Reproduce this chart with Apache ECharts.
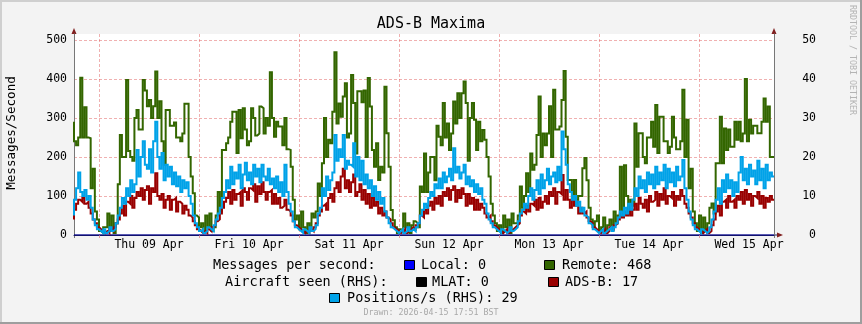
<!DOCTYPE html>
<html>
<head>
<meta charset="utf-8">
<title>ADS-B Maxima</title>
<script src="https://cdn.jsdelivr.net/npm/echarts@6/dist/echarts.min.js"></script>
<style>
  html, body { margin: 0; padding: 0; background: #f3f3f3; }
  #chart { width: 862px; height: 324px; }
</style>
</head>
<body>
<div id="chart"></div>
<script>
// Time axis: hours relative to Thu 09 Apr 00:00, one sample every 30 minutes
const startHour = -6;
const endHour = 162;
const stepHours = 0.5;

const dayLabels = ['Thu 09 Apr', 'Fri 10 Apr', 'Sat 11 Apr', 'Sun 12 Apr', 'Mon 13 Apr', 'Tue 14 Apr', 'Wed 15 Apr'];
const midnightHours = [0, 24, 48, 72, 96, 120, 144];
const noonHours = [12, 36, 60, 84, 108, 132, 156];
const leftTicks = [0, 100, 200, 300, 400, 500];
const rightTicks = [0, 10, 20, 30, 40, 50];

// Messages per second (LHS)
const localRate = [0, 0];
const remoteRate = [
  290,240,230,250,403,250,327,250,248,120,170,60,
  40,10,5,20,20,55,10,50,5,30,130,256,200,200,397,215,200,190,300,320,270,270,397,370,330,346,300,330,419,300,343,240,180,320,320,280,280,288,250,250,240,260,336,336,200,150,107,50,
  45,20,30,5,50,20,55,10,20,50,110,60,218,218,235,250,290,316,316,210,320,248,325,270,230,240,325,300,255,260,329,325,260,300,280,417,300,252,290,278,278,230,300,220,218,175,90,40,
  50,15,60,20,5,30,10,55,45,60,132,100,184,300,200,244,235,316,468,286,337,303,355,389,250,260,410,338,209,368,368,340,370,200,402,329,218,175,235,141,175,160,380,261,175,64,38,20,
  5,15,10,55,20,30,5,25,35,30,20,124,110,209,110,160,200,200,140,280,252,230,338,250,286,218,260,342,286,363,300,363,393,338,190,300,338,295,218,290,240,269,244,200,150,80,50,30,
  10,25,5,50,20,40,5,55,30,30,50,124,70,100,158,110,209,167,180,256,355,200,260,230,260,330,200,372,270,270,278,346,420,252,141,141,90,141,90,100,100,171,197,140,70,40,20,35,
  50,10,20,45,5,25,40,15,60,30,50,175,60,179,100,55,90,75,286,175,261,261,200,184,250,250,290,226,333,210,303,303,240,240,210,226,303,250,220,220,240,372,200,295,120,170,60,30,
  10,50,5,45,10,30,70,81,55,184,184,303,184,273,218,270,226,226,290,244,290,240,260,400,240,295,260,280,280,261,261,290,350,290,329,200,200
];

// Aircraft seen (RHS)
const mlatSeen = [0, 0];
const adsbSeen = [
  4,6.5,8,9,8.5,9.5,8,8.5,7,5.5,4,3,
  2,1.5,1,0.5,1,0.5,1.5,1,2,3,4,5.5,7.5,5,8.5,8,10,7,9.5,11,10,12,9,11.5,12.5,8,12,11,15.8,10,9,10.5,7,9,10,6.5,9,9.5,6,8.5,8,5.5,7.5,6.5,5,4.5,3.5,2.5,
  1.5,1,0.5,1,0.5,1.5,1,2,2.5,3.5,4,5.5,7,8.5,9.5,11,8,11.5,9,10.5,11,7.5,12,11,9,12,11.5,13,8.5,12.5,10.5,13.5,11,9,11,11.5,8,10.5,8,9.5,7,7.5,9,6.5,6,5,3.5,2.5,
  2,1.5,1,0.5,1,0.5,1.5,1,2,3,5,6,7.5,8,6.5,9.5,10.5,8.5,12,13.5,11,15,17,12,14,11,13.5,15.5,10,11,13,9,11.5,8,10.5,7,9.5,7.5,8.5,5.5,7,5,6,4.5,4,3,2,1.5,
  1,0.5,1,1.5,0.5,1,1.5,2,1.5,2.5,3,5,4.5,6.5,5.5,7.5,8.5,6.5,9.5,8,10,7.5,11,10,12,9,11.5,12.5,8.5,11.5,9.5,12,10.5,7.5,10.5,8,9.5,6.5,9,6.5,8,7,5.5,4.5,5,3.5,2.5,2,
  1.5,1,0.5,1,1.5,0.5,1,1.5,2,2.5,3,5,6,5.5,7.5,6,8,7.5,9,6.5,9.5,7,8.5,10,8,11,10,12,8,11,10.5,15.4,9,11.5,9,7,9,7.5,8.5,5.5,7,5.5,6,4.5,3.5,3,2,1.5,
  1,0.5,1,1.5,0.5,1,2,1.5,2.5,3,4,5.5,4.5,6,5,7,5,6.5,8,6.5,9.5,8,7,9,6,10,8.5,9,11,7.5,10.5,9,12,8,10,9.5,11,7.5,10,9,11.5,10,8,7,5.5,4.5,3,2,
  1.5,1,0.5,1,1.5,0.5,1,2.5,4,6,7.5,5,8.5,9,7,10,8.5,9,7,10,9,11,8,11.5,9,10.5,7.5,10,9.5,11,8,10,7,9.5,8.5,10,9
];

// Positions per second (RHS)
const positionsRate = [
  5,9,12,16,11,10,11.5,9,10,7,4,2.5,
  1.5,1,0.5,1.5,0.5,1,2,1,1.5,3,5,7,9.5,8,12,10,14,11,13,21.8,15,20,24,18,17,22,16,24,29,20,17,21,14,18,15,17.5,13,16,12.5,15,11,14,12,13.5,10,8,5,3,
  2,1,1.5,0.5,1,2,1.5,1,2.5,4,5.5,7,9.5,11,14,12,17.5,13,16,14.5,18,12,15.5,18.5,14,16,13,18,15,17,13.5,18,15,14,17,13,14.5,12,15,11,13.5,10,18,11,8,6,3.5,2,
  1.5,1,0.5,1.5,1,0.5,2,1,1.5,2.5,5.5,7,12,10,15,11.5,14,16,25.6,19,22,20,25.6,17,19,18,17.5,23.5,15,20,14,19,13,15.5,12,14,10,12.5,9,11,8,9.5,6,4.5,3,2,1.5,1,
  0.5,1,1.5,0.5,1,2,1,1.5,1,2,3,5,6.5,8,7,9.5,11,10,13,12,14.5,12,16,13.5,15,17,14,22.2,16,17.5,14.5,16,18,13,15,12.5,14,11,13,10.5,12,9,8,5.5,4,3,2,1.5,
  1,0.5,1.5,1,0.5,1,2,1,1.5,2,3.5,5.5,6.5,8,7,10,12,9,11.5,14,10.5,15.5,12,14,17,13,15,16,13.5,17.5,14,26.5,22,18,13,11,9,10,7.5,8.5,6,7,5,4.5,3,2.5,1.5,1,
  0.5,1,1.5,0.5,1,1.5,2,1,2,3,4.5,6,5,7,5.5,8,6.5,9,12,10,15,12,14,11,16,13,15.5,12,17.5,13,16,14,18,12,17,13.5,16,12.5,17.5,14,15,19.2,12,9,6,4,2.5,1.5,
  1,0.5,1.5,1,0.5,1,2,4,6,9,12,8,14,11,15.5,12,14,10,13.5,11,16,20,14,17,13,18,15,16.5,13,19,14,17,12,18,14,16,15
];

const FONT = '"DejaVu Sans Mono", monospace';
const MGRID = 'rgba(222, 80, 80, 0.45)';

const COLORS = {
  local: '#0000ff',
  remote: '#336600',
  mlat: '#000000',
  adsb: '#990000',
  positions: '#00a2e8'
};

function timed(values) {
  return values.map((v, i) => [startHour + i * stepHours, v]);
}
function spanning(values) {
  // first and last sample at the window edges
  return values.map((v, i) => [i === 0 ? startHour : endHour, v]);
}
const maxOf = a => Math.max.apply(null, a).toFixed(0);

function stepLine(name, data, color, axis, width, z, opacity) {
  return {
    name: name,
    type: 'line',
    step: 'start',
    data: data,
    yAxisIndex: axis,
    showSymbol: false,
    symbol: 'none',
    silent: true,
    z: z,
    lineStyle: { color: color, width: width, opacity: opacity == null ? 1 : opacity, cap: 'butt', join: 'miter' }
  };
}

const chart = echarts.init(document.getElementById('chart'), null, { renderer: 'canvas', width: 862, height: 324 });

const legendRows = [
  { text: 'Messages per second:', x: 213, y: 265 },
  { text: 'Aircraft seen (RHS):', x: 225, y: 282 }
];
const legendItems = [
  { label: 'Local: ' + maxOf(localRate), color: COLORS.local, bx: 404, tx: 421, y: 265 },
  { label: 'Remote: ' + maxOf(remoteRate), color: COLORS.remote, bx: 544, tx: 562, y: 265 },
  { label: 'MLAT: ' + maxOf(mlatSeen), color: COLORS.mlat, bx: 416, tx: 432, y: 282 },
  { label: 'ADS-B: ' + maxOf(adsbSeen), color: COLORS.adsb, bx: 548, tx: 565, y: 282 },
  { label: 'Positions/s (RHS): ' + maxOf(positionsRate), color: COLORS.positions, bx: 329, tx: 347, y: 298 }
];

const graphics = [];
// frame shading
graphics.push({ type: 'rect', shape: { x: 0, y: 0, width: 862, height: 2 }, style: { fill: '#cfcfcf' }, silent: true });
graphics.push({ type: 'rect', shape: { x: 0, y: 0, width: 2, height: 324 }, style: { fill: '#cfcfcf' }, silent: true });
graphics.push({ type: 'rect', shape: { x: 0, y: 322, width: 862, height: 2 }, style: { fill: '#9e9e9e' }, silent: true });
graphics.push({ type: 'rect', shape: { x: 860, y: 0, width: 2, height: 324 }, style: { fill: '#9e9e9e' }, silent: true });

// title
graphics.push({ type: 'text', x: 431, y: 24, silent: true,
  style: { text: 'ADS-B Maxima', font: '15px ' + FONT, fill: '#000', align: 'center', verticalAlign: 'middle' } });
// vertical axis title
graphics.push({ type: 'text', x: 12, y: 133, rotation: Math.PI / 2, silent: true,
  style: { text: 'Messages/Second', font: '12.6px ' + FONT, fill: '#000', align: 'center', verticalAlign: 'middle' } });
// watermark
graphics.push({ type: 'text', x: 852, y: 60, rotation: -Math.PI / 2, silent: true,
  style: { text: 'RRDTOOL / TOBI OETIKER', font: '8.3px ' + FONT, fill: '#b4b4b4', align: 'center', verticalAlign: 'middle' } });
// timestamp
graphics.push({ type: 'text', x: 431, y: 313, silent: true,
  style: { text: 'Drawn: 2026-04-15 17:51 BST', font: '8.3px ' + FONT, fill: '#a8a8a8', align: 'center', verticalAlign: 'middle' } });

legendRows.forEach(r => graphics.push({ type: 'text', x: r.x, y: r.y, silent: true,
  style: { text: r.text, font: '13.5px ' + FONT, fill: '#000', align: 'left', verticalAlign: 'middle' } }));
legendItems.forEach(it => {
  graphics.push({ type: 'rect', silent: true, shape: { x: it.bx + 0.5, y: it.y - 4.5, width: 10, height: 9 },
    style: { fill: it.color, stroke: '#000', lineWidth: 1 } });
  graphics.push({ type: 'text', x: it.tx, y: it.y, silent: true,
    style: { text: it.label, font: '13.5px ' + FONT, fill: '#000', align: 'left', verticalAlign: 'middle' } });
});

// axis arrows
const ARROW = '#801f1f';
graphics.push({ type: 'polygon', silent: true, shape: { points: [[74, 28], [71.5, 34], [76.5, 34]] }, style: { fill: ARROW } });
graphics.push({ type: 'polygon', silent: true, shape: { points: [[774, 28], [771.5, 34], [776.5, 34]] }, style: { fill: ARROW } });
graphics.push({ type: 'polygon', silent: true, shape: { points: [[783, 235], [777, 232.5], [777, 237.5]] }, style: { fill: ARROW } });
graphics.push({ type: 'line', silent: true, shape: { x1: 774, y1: 235, x2: 777, y2: 235 }, style: { stroke: '#1c1c58', lineWidth: 1 } });
graphics.push({ type: 'line', silent: true, shape: { x1: 74.5, y1: 235, x2: 74.5, y2: 238 }, style: { stroke: '#777', lineWidth: 1 } });
graphics.push({ type: 'line', silent: true, shape: { x1: 774.5, y1: 235, x2: 774.5, y2: 238 }, style: { stroke: '#777', lineWidth: 1 } });

const tickFont = { fontFamily: FONT, fontSize: 11.5, color: '#000' };

chart.setOption({
  backgroundColor: '#f3f3f3',
  animation: false,
  textStyle: { fontFamily: FONT },
  grid: { left: 74, right: 88, top: 34, bottom: 89, show: true, backgroundColor: '#ffffff', borderWidth: 0 },
  xAxis: [{
    type: 'value', min: startHour, max: endHour,
    axisLine: { show: true, onZero: false, lineStyle: { color: '#1c1c58', width: 1 } },
    axisTick: { show: true, length: 3, customValues: midnightHours, lineStyle: { color: '#e39a9a' } },
    axisLabel: Object.assign({ customValues: noonHours, margin: 4,
      formatter: v => dayLabels[noonHours.indexOf(v)] }, tickFont),
    splitLine: { show: true, lineStyle: { color: MGRID, type: [3, 2], width: 1 } }
  }],
  yAxis: [{
    type: 'value', min: 0, max: 515, position: 'left',
    axisLine: { show: true, onZero: false, lineStyle: { color: '#777', width: 1 } },
    axisTick: { show: false, customValues: leftTicks },
    axisLabel: Object.assign({ customValues: leftTicks, margin: 7 }, tickFont),
    splitLine: { show: true, lineStyle: { color: MGRID, type: [3, 2], width: 1 } }
  }, {
    type: 'value', min: 0, max: 51.5, position: 'right',
    axisLine: { show: true, onZero: false, lineStyle: { color: '#777', width: 1 } },
    axisTick: { show: false, customValues: rightTicks },
    axisLabel: Object.assign({ customValues: rightTicks, margin: 42, align: 'right' }, tickFont),
    splitLine: { show: false }
  }],
  series: [
    stepLine('Local', spanning(localRate), COLORS.local, 0, 1, 3),
    stepLine('Remote', timed(remoteRate), COLORS.remote, 0, 2, 4),
    stepLine('MLAT', spanning(mlatSeen), COLORS.mlat, 1, 1, 5, 0.6),
    stepLine('ADS-B', timed(adsbSeen), COLORS.adsb, 1, 2, 6),
    stepLine('Positions', timed(positionsRate), COLORS.positions, 1, 2, 7)
  ],
  graphic: { elements: graphics }
});
</script>
</body>
</html>
